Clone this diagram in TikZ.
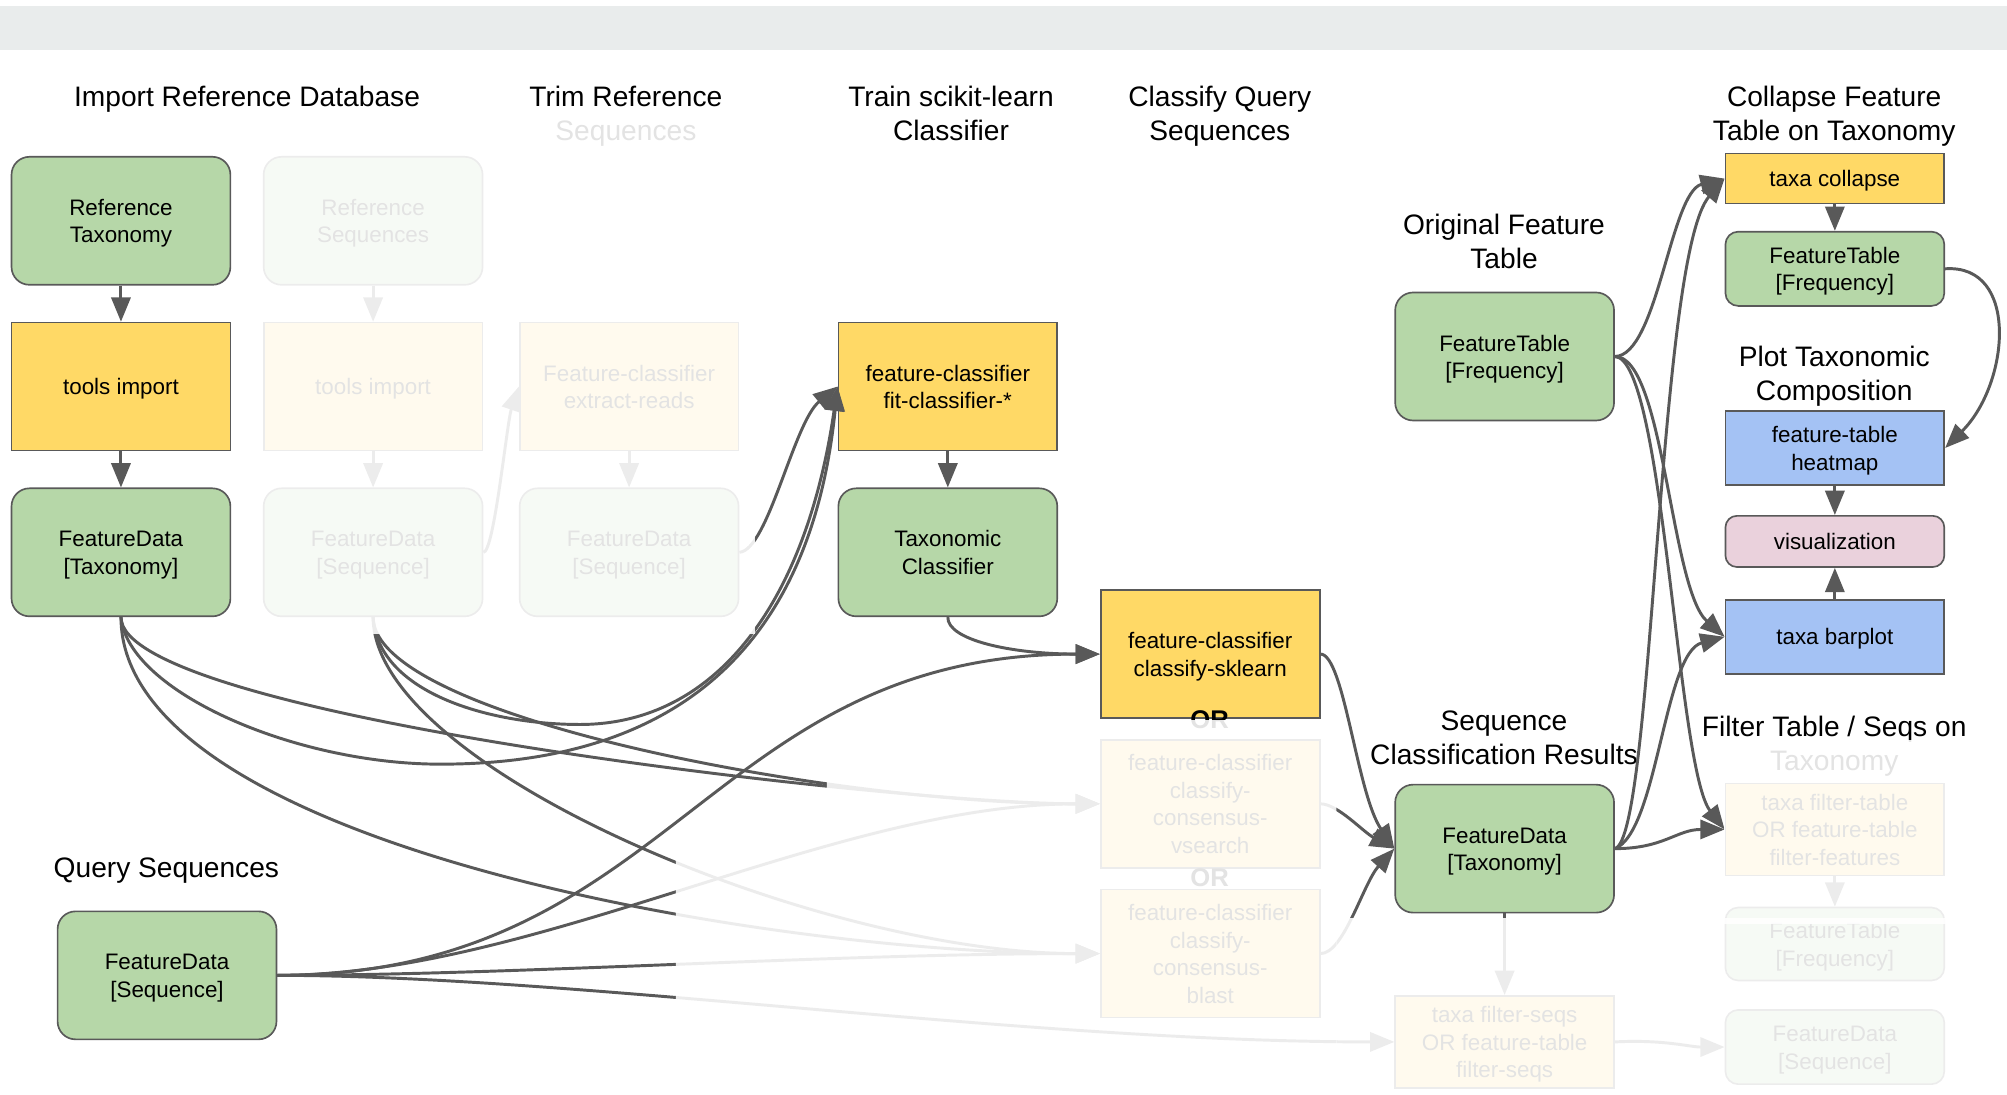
\documentclass[tikz,border=0pt]{standalone}
\usepackage{fontspec}
\setmainfont{Liberation Sans}
\usetikzlibrary{arrows.meta}
\definecolor{datagreen}{HTML}{B6D7A8}
\definecolor{actyellow}{HTML}{FFD966}
\definecolor{plotblue}{HTML}{A4C2F4}
\definecolor{vizpink}{HTML}{EAD1DC}
\definecolor{edgegray}{HTML}{595959}
\definecolor{bargray}{HTML}{E9ECEC}
\def\boxfont{\fontsize{17.5}{21.5}\selectfont}
\def\headfont{\fontsize{22}{26.5}\selectfont}
\def\orfont{\fontsize{20}{24}\selectfont\bfseries}
\def\linestrut{\rule[-0.212em]{0pt}{1.135em}}
\def\firstline{\rule{0pt}{0.96em}}
\tikzset{
	data/.style={draw=edgegray, line width=1.3pt, fill=datagreen, rounded corners=14pt, minimum width=171pt, minimum height=100pt, align=center, font=\boxfont, inner sep=2pt, execute at begin node=\linestrut, execute at end node=\linestrut},
	action/.style={data, fill=actyellow, sharp corners},
	plot/.style={data, fill=plotblue, sharp corners, minimum height=58pt},
	viz/.style={data, fill=vizpink, rounded corners=9pt, minimum height=40pt},
	head/.style={font=\headfont, align=center, inner sep=0pt, execute at begin node=\linestrut, execute at end node=\linestrut},
	orlabel/.style={font=\orfont, inner sep=0pt},
	flow/.style={draw=edgegray, line width=2.3pt, -{Triangle[length=19pt,width=15pt]}},
	fade/.style={fill=white, fill opacity=0.89}
}

\begin{document}
\begin{tikzpicture}[x=1pt, y=-1pt]
		%%%%% START %%%%%
		\useasboundingbox (0,0) rectangle (1568,855);
		\fill[bargray] (0,5) rectangle (1568,39);
		
		% headings
		\node[head] (hImport) at (193,75) {Import Reference Database};
		\node[head] (hTrim) at (489,88) {\firstline Trim Reference\\Sequences};
		\node[head] (hTrain) at (743,88) {\firstline Train scikit-learn\\Classifier};
		\node[head] (hClassify) at (953,88) {\firstline Classify Query\\Sequences};
		\node[head] (hCollapse) at (1433,88) {\firstline Collapse Feature\\Table on Taxonomy};
		\node[head] (hOrig) at (1175,188) {\firstline Original Feature\\Table};
		\node[head] (hPlot) at (1433,291.5) {\firstline Plot Taxonomic\\Composition};
		\node[head] (hResults) at (1175,576) {\firstline Sequence\\Classification Results};
		\node[head] (hFilter) at (1433,580.5) {\firstline Filter Table / Seqs on\\Taxonomy};
		\node[head] (hQuery) at (130,678) {Query Sequences};
		
		% reference database
		\node[data] (refTax) at (94.5,172.5) {\firstline Reference\\Taxonomy};
		\node[data] (refSeq) at (291.5,172.5) {\firstline Reference\\Sequences};
		\node[action] (importTax) at (94.5,302) {tools import};
		\node[action] (importSeq) at (291.5,302) {tools import};
		\node[data] (refTaxData) at (94.5,431.5) {\firstline FeatureData\\{[Taxonomy]}};
		\node[data] (refSeqData) at (291.5,431.5) {\firstline FeatureData\\{[Sequence]}};
		
		% trim, train
		\node[action] (extract) at (491.5,302) {\firstline Feature-classifier\\extract-reads};
		\node[data] (trimSeqData) at (491.5,431.5) {\firstline FeatureData\\{[Sequence]}};
		\node[action] (fit) at (740.5,302) {\firstline feature-classifier\\fit-classifier-*};
		\node[data] (classifier) at (740.5,431.5) {\firstline Taxonomic\\Classifier};
		
		% classify
		\node[action] (sklearn) at (945.5,511) {\firstline feature-classifier\\classify-sklearn};
		\node[action] (vsearch) at (945.5,628) {\firstline feature-classifier\\classify-\\consensus-\\vsearch};
		\node[action] (blast) at (945.5,745) {\firstline feature-classifier\\classify-\\consensus-\\blast};
		\node[orlabel] (orA) at (945,562) {OR};
		\node[orlabel] (orB) at (945,686) {OR};
		\node[data] (query) at (130.5,762) {\firstline FeatureData\\{[Sequence]}};
		
		% results
		\node[data] (featTable) at (1175.5,278.5) {\firstline FeatureTable\\{[Frequency]}};
		\node[data] (resTax) at (1175.5,663) {\firstline FeatureData\\{[Taxonomy]}};
		\node[action, minimum height=72pt] (filterSeqs) at (1175.5,814) {\firstline taxa filter-seqs\\OR feature-table\\filter-seqs};
		\node[action, minimum height=39pt] (collapse) at (1433.5,139.5) {taxa collapse};
		\node[data, minimum height=58pt, rounded corners=10pt] (collapsedTable) at (1433.5,210) {\firstline FeatureTable\\{[Frequency]}};
		\node[plot] (heatmap) at (1433.5,350) {\firstline feature-table\\heatmap};
		\node[viz] (vis) at (1433.5,423) {visualization};
		\node[plot] (barplot) at (1433.5,497.5) {taxa barplot};
		\node[action, minimum height=72pt] (filterTable) at (1433.5,648) {\firstline taxa filter-table\\OR feature-table\\filter-features};
		\node[data, minimum height=57pt, rounded corners=10pt] (filteredTable) at (1433.5,737.5) {\firstline FeatureTable\\{[Frequency]}};
		\node[data, minimum height=58pt, rounded corners=10pt] (filteredSeqs) at (1433.5,818) {\firstline FeatureData\\{[Sequence]}};
		
		\coordinate (loopTax) at (344,597);
		\coordinate (loopSeq) at (453,566);
		
		% import, trim, train
		\draw[flow] (refTax) -- (importTax);
		\draw[flow] (importTax) -- (refTaxData);
		\draw[flow] (refSeq) -- (importSeq);
		\draw[flow] (importSeq) -- (refSeqData);
		\draw[flow] (refSeqData.east) .. controls (386,432) and (396,330) .. (extract.west);
		\draw[flow] (extract) -- (trimSeqData);
		\draw[flow] (refTaxData.south) .. controls (100,540) and (230,597) .. (loopTax) .. controls (490,597) and (630,540) .. (fit.west);
		\draw[flow] (refSeqData.south) .. controls (295,540) and (380,566) .. (loopSeq) .. controls (560,566) and (630,470) .. (fit.west);
		\draw[flow] (trimSeqData.east) .. controls (600,430) and (620,330) .. (fit.west);
		\draw[flow] (fit) -- (classifier);
		
		% classify
		\draw[flow] (classifier.south) .. controls (740,500) and (790,511) .. (sklearn.west);
		\draw[flow] (query.east) .. controls (525,762) and (552,511) .. (sklearn.west);
		\draw[flow] (refTaxData.south) .. controls (94.5,560) and (700,628) .. (vsearch.west);
		\draw[flow] (refSeqData.south) .. controls (291.5,560) and (650,628) .. (vsearch.west);
		\draw[flow] (query.east) .. controls (420,762) and (650,628) .. (vsearch.west);
		\draw[flow] (refTaxData.south) .. controls (94.5,660) and (600,745) .. (blast.west);
		\draw[flow] (refSeqData.south) .. controls (291.5,600) and (640,745) .. (blast.west);
		\draw[flow] (query.east) .. controls (400,762) and (650,745) .. (blast.west);
		\draw[flow] (sklearn.east) .. controls (1050,511) and (1060,620) .. (resTax.west);
		\draw[flow] (vsearch.east) .. controls (1045,628) and (1065,650) .. (resTax.west);
		\draw[flow] (blast.east) .. controls (1050,745) and (1065,690) .. (resTax.west);
		
		% collapse, plot
		\draw[flow] (featTable.east) .. controls (1295,278) and (1305,150) .. (collapse.west);
		\draw[flow] (resTax.east) .. controls (1292,655) and (1295,200) .. (collapse.west);
		\draw[flow] (collapse) -- (collapsedTable);
		\draw[flow] (collapsedTable.east) .. controls (1578,206) and (1570,300) .. (heatmap.east);
		\draw[flow] (heatmap) -- (vis);
		\draw[flow] (barplot) -- (vis);
		\draw[flow] (featTable.east) .. controls (1300,278) and (1305,460) .. (barplot.west);
		\draw[flow] (resTax.east) .. controls (1295,650) and (1300,510) .. (barplot.west);
		
		% filter
		\draw[flow] (featTable.east) .. controls (1300,280) and (1310,600) .. (filterTable.west);
		\draw[flow] (resTax.east) .. controls (1300,663) and (1310,648) .. (filterTable.west);
		\draw[flow] (filterTable) -- (filteredTable);
		\draw[flow] (resTax) -- (filterSeqs);
		\draw[flow] (query.east) .. controls (450,762) and (800,814) .. (filterSeqs.west);
		\draw[flow] (filterSeqs.east) .. controls (1300,812) and (1320,818) .. (filteredSeqs.west);
		
		% optional steps, faded out
		\fill[fade] (197,94) rectangle (590,495);
		\fill[fade] (528,650) -- (646,650) -- (646,575) -- (720,562.5) -- (1044,562.5) -- (1044,855) -- (528,855) -- cycle;
		\fill[fade] (1044,717) rectangle (1530,855);
		\fill[fade] (1347,578) rectangle (1530,722);
		%%%%% END %%%%%
\end{tikzpicture}
\end{document}
